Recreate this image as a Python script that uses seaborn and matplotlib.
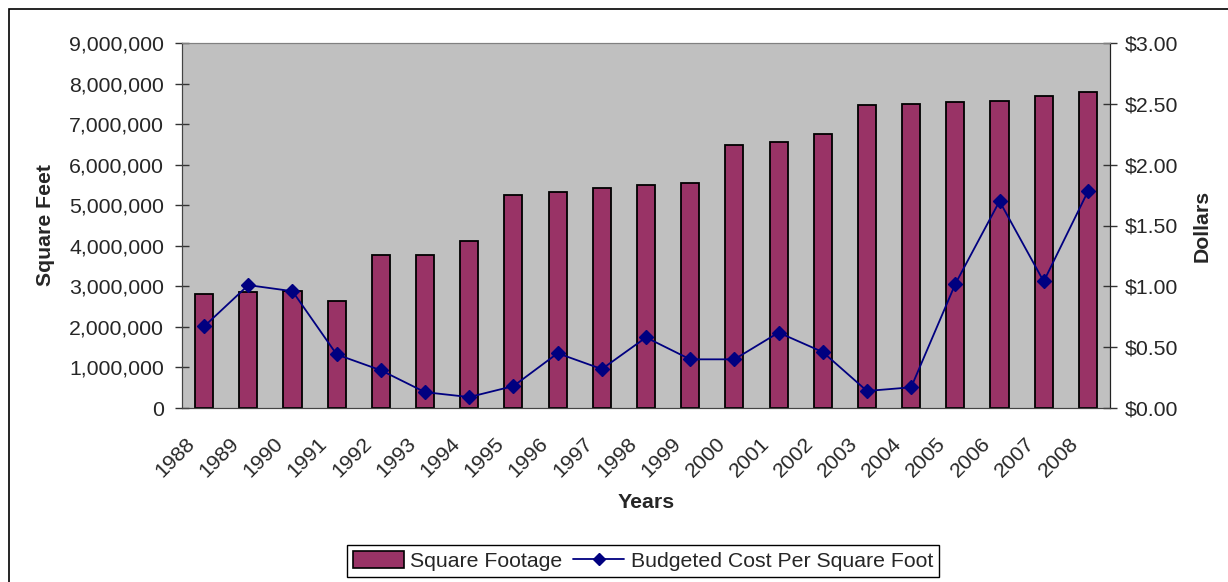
import numpy as np
import pandas as pd
import matplotlib
matplotlib.use("Agg")
import matplotlib.pyplot as plt
import matplotlib.ticker as mticker
from matplotlib.patches import Rectangle
from matplotlib.transforms import ScaledTranslation
import seaborn as sns

# data
years = [str(y) for y in range(1988, 2009)]
square_footage = [2810000, 2850000, 2890000, 2650000, 3770000, 3770000, 4110000,
                  5250000, 5330000, 5420000, 5500000, 5540000, 6480000, 6560000,
                  6760000, 7460000, 7500000, 7540000, 7580000, 7700000, 7790000]
cost_per_sqft = [0.67, 1.01, 0.96, 0.44, 0.31, 0.13, 0.09, 0.18, 0.45, 0.32, 0.58,
                 0.40, 0.40, 0.62, 0.46, 0.14, 0.17, 1.02, 1.70, 1.04, 1.78]

df = pd.DataFrame({'Year': years, 'Square Footage': square_footage,
                   'Cost': cost_per_sqft})

sns.set_style('white')
plt.rcParams['font.family'] = ['Liberation Sans', 'DejaVu Sans']

bar_color = '#993366'
line_color = '#000080'
fs = 15.3

fig = plt.figure(figsize=(12.28, 5.82), dpi=100)
ax = fig.add_axes([182/1228, 1-408/582, (1110-182)/1228, (408-43)/582])
ax.set_facecolor('#C0C0C0')

sns.barplot(data=df, x='Year', y='Square Footage', color=bar_color, width=0.41,
            edgecolor='black', linewidth=1.3, saturation=1, ax=ax, zorder=2)

ax2 = ax.twinx()
sns.pointplot(data=df, x='Year', y='Cost', color=line_color, marker='D',
              markersize=7, linewidth=1.3, ax=ax2)

ax.set_xlim(-0.5, len(years) - 0.5)
ax.set_ylim(0, 9000000)
ax2.set_ylim(0, 3)
ax.yaxis.set_major_locator(mticker.MultipleLocator(1000000))
ax.yaxis.set_major_formatter(mticker.StrMethodFormatter('{x:,.0f}'))
ax2.yaxis.set_major_locator(mticker.MultipleLocator(0.5))
ax2.yaxis.set_major_formatter(mticker.StrMethodFormatter('${x:.2f}'))

# category boundaries get the tick marks, labels sit at centres
ax.set_xticks(np.arange(len(years)))
ax.set_xticklabels(years, rotation=45, ha='right', va='top', rotation_mode='anchor')
ax.set_xticks(np.arange(len(years) + 1) - 0.5, minor=True)
ax.tick_params(axis='x', which='major', length=0, pad=10, labelsize=fs)
ax.tick_params(axis='x', which='minor', direction='inout', length=10, width=1, color='#333333')
ax.tick_params(axis='y', direction='inout', length=10, width=1, color='#333333', labelsize=fs, pad=8)
ax2.tick_params(axis='y', direction='inout', length=10, width=1, color='#333333', labelsize=fs, pad=6)
shift = ScaledTranslation(-0.19, -0.12, fig.dpi_scale_trans)
for lbl in ax.get_xticklabels():
    lbl.set_transform(lbl.get_transform() + shift)

ax.set_xlabel('Years', fontsize=fs, fontweight='bold', labelpad=9)
ax.set_ylabel('Square Feet', fontsize=fs, fontweight='bold', labelpad=10)
ax2.set_ylabel('Dollars', fontsize=fs, fontweight='bold', labelpad=10)

for a in (ax, ax2):
    for s in a.spines.values():
        s.set_visible(True)
    a.spines['top'].set_color('#808080')
    a.spines['left'].set_color('#444444')
    a.spines['bottom'].set_color('#444444')
    a.spines['right'].set_color('#222222')
ax2.grid(False)
ax.grid(False)

handles = [plt.Rectangle((0, 0), 1, 1, facecolor=bar_color, edgecolor='black', linewidth=1.2),
           plt.Line2D([], [], color=line_color, marker='D', markersize=6, linewidth=1.3)]
fig.legend(handles, ['Square Footage', 'Budgeted Cost Per Square Foot'], ncol=2,
           loc='center', bbox_to_anchor=(643/1228, 1-561/582), fontsize=fs,
           frameon=True, fancybox=False, edgecolor='black', framealpha=1,
           handlelength=2.4, handleheight=0.8, columnspacing=0.5, handletextpad=0.3,
           borderpad=0.3)

# outer chart border
fig.patches.append(Rectangle((9/1228, -0.05), 1.2, 1-9/582+0.05, transform=fig.transFigure,
                             fill=False, edgecolor='black', linewidth=1.2))

fig.savefig('out.png', dpi=100, facecolor='white')
